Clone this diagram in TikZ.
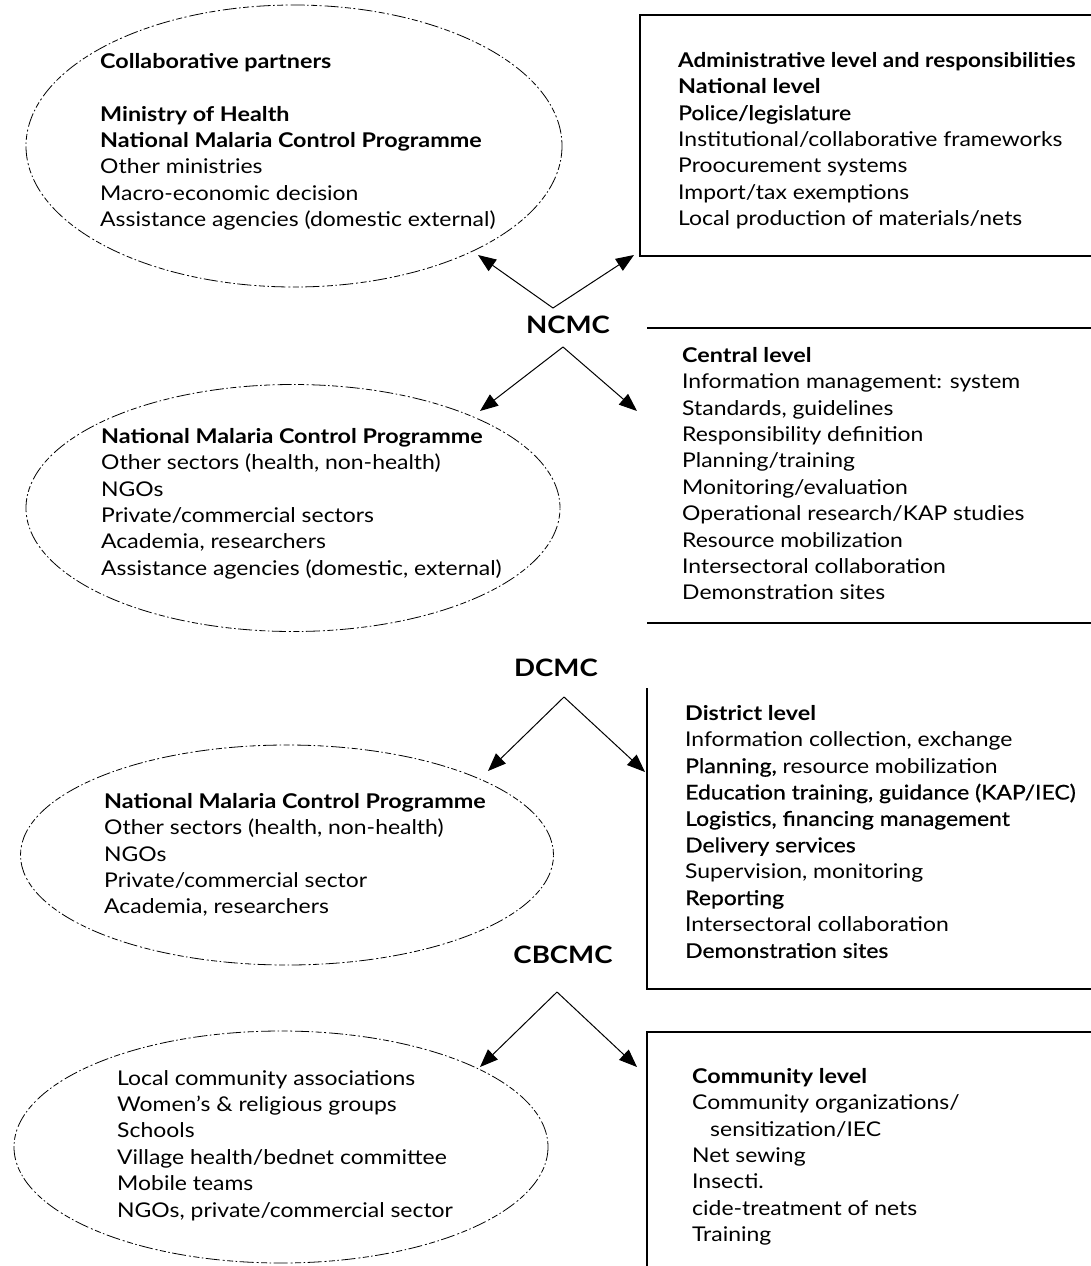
\documentclass[tikz,border=0pt]{standalone}
\usepackage{fontspec}
\usepackage{graphicx}
\setmainfont{Lato}[FakeStretch=1.13, BoldFeatures={FakeStretch=1.15}]
\newfontfamily\semib{Lato}[FakeStretch=1.13, FakeBold=0.7]
\usetikzlibrary{shapes.geometric,arrows.meta}
\begin{document}
\begin{tikzpicture}[x=1pt,y=-1pt,
  part/.style={draw, ellipse, line width=0.8pt,
    dash pattern=on 6pt off 2.5pt on 1.5pt off 2.5pt on 14pt off 3pt on 2pt off 2.5pt},
  txt/.style={anchor=north west, inner sep=0pt, align=left,
    font=\fontsize{20.3}{26.4}\selectfont},
  lvl/.style={font=\fontsize{24}{26}\selectfont\bfseries, inner sep=0pt},
  rule/.style={line width=1.3pt},
  arr/.style={line width=1pt, -{Triangle[length=18pt,width=14pt]}}]
\useasboundingbox (0,0) rectangle (1091,1266);
\fill[white] (0,0) rectangle (1091,1266);

% ellipses
\node[part, minimum width=536pt, minimum height=282pt] (e1) at (294,146) {};
\node[part, minimum width=534pt, minimum height=247pt] (e2) at (293,508) {};
\node[part, minimum width=533pt, minimum height=220pt] (e3) at (287,855) {};
\node[part, minimum width=534pt, minimum height=232pt] (e4) at (281,1147) {};

% ellipse texts
\node[txt] (t1) at (100,53) {\textbf{Collaborative partners}\\[26.4pt]
\textbf{Ministry of Health}\\
\textbf{National Malaria Control Programme}\\
Other ministries\\
Macro-economic decision\\
Assistance agencies (domestic external)};

\node[txt] (t2) at (101,428) {\textbf{National Malaria Control Programme}\\
Other sectors (health, non-health)\\
NGOs\\
Private/commercial sectors\\
Academia, researchers\\
Assistance agencies (domestic, external)};

\node[txt] (t3) at (104,793) {\textbf{National Malaria Control Programme}\\
Other sectors (health, non-health)\\
NGOs\\
Private/commercial sector\\
Academia, researchers};

\node[txt] (t4) at (117,1070) {Local community associations\\
Women's \& religious groups\\
Schools\\
Village health/bednet committee\\
Mobile teams\\
NGOs, private/commercial sector};

% boxes
\draw[rule] (640,15) rectangle (1100,256);
\draw[rule] (647,328) -- (1100,328);
\draw[rule] (647,623) -- (1100,623);
\draw[rule] (647,688) -- (647,989) -- (1100,989);
\draw[rule] (647,1280) -- (647,1032) -- (1100,1032);

% box texts
\node[txt] (b1) at (678,52) {\scalebox{0.965}[1]{\textbf{Administrative level and responsibilities}}\\
\textbf{National level}\\
{\semib Police/legislature}\\
Institutional/collaborative frameworks\\
Proocurement systems\\
Import/tax exemptions\\
Local production of materials/nets};

\node[txt] (b2) at (682,347) {\textbf{Central level}\\
Information management: system\\
Standards, guidelines\\
Responsibility definition\\
Planning/training\\
Monitoring/evaluation\\
Operational research/KAP studies\\
Resource mobilization\\
Intersectoral collaboration\\
Demonstration sites};

\node[txt] (b3) at (685,705) {\textbf{District level}\\
Information collection, exchange\\
{\semib Planning,} resource mobilization\\
{\semib Education training, guidance (KAP/IEC)}\\
{\semib Logistics, financing management}\\
{\semib Delivery services}\\
Supervision, monitoring\\
{\semib Reporting}\\
Intersectoral collaboration\\
{\semib Demonstration sites}};

\node[txt] (b4) at (692,1068) {\textbf{Community level}\\
Community organizations/\\
\hspace*{18pt}sensitization/IEC\\
Net sewing\\
Insecti.\\
cide-treatment of nets\\
Training};

% level labels
\node[lvl] (ncmc) at (568,325) {NCMC};
\node[lvl] (dcmc) at (556,668) {DCMC};
\node[lvl] (cbcmc) at (563,955) {CBCMC};

% arrow apexes and tips
\coordinate (n1) at (553,308);
\coordinate (n1l) at (478,255);
\coordinate (n1r) at (634,255);
\coordinate (n2) at (563,347);
\coordinate (n2l) at (480,411);
\coordinate (n2r) at (637,411);
\coordinate (d1) at (564,697);
\coordinate (d1l) at (488,771);
\coordinate (d1r) at (645,772);
\coordinate (c1) at (557,992);
\coordinate (c1l) at (480,1067);
\coordinate (c1r) at (637,1067);

\draw[arr] (n1) -- (n1l);
\draw[arr] (n1) -- (n1r);
\draw[arr] (n2) -- (n2l);
\draw[arr] (n2) -- (n2r);
\draw[arr] (d1) -- (d1l);
\draw[arr] (d1) -- (d1r);
\draw[arr] (c1) -- (c1l);
\draw[arr] (c1) -- (c1r);
\end{tikzpicture}
\end{document}
